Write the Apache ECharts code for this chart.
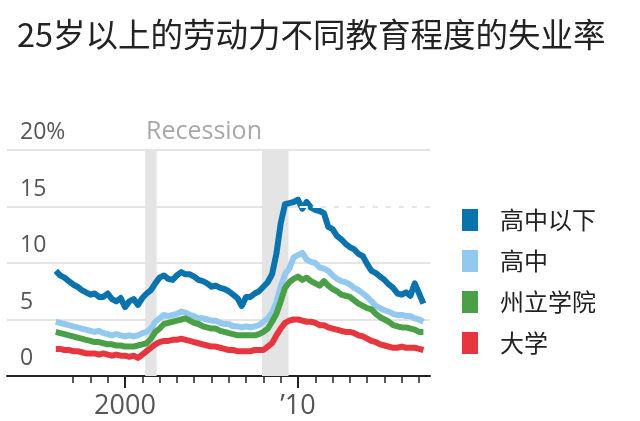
<!DOCTYPE html>
<html><head><meta charset="utf-8">
<script src="https://cdn.jsdelivr.net/npm/echarts@6/dist/echarts.min.js"></script>
<style>html,body{margin:0;padding:0;background:#fff}#c{width:640px;height:421px}</style>
</head><body><div id="c"></div>
<script>
// quarterly observations from 1996 Q1 to 2017 Q2
const startYear = 1996;
const seriesNames = ['高中以下', '高中', '州立学院', '大学'];
const lessHS = [9.3,8.9,8.7,8.4,8.1,7.9,7.6,7.4,7.2,7.3,7.0,7.0,7.3,6.8,6.6,6.9,6.1,6.6,6.8,6.3,6.9,7.3,7.6,8.2,8.7,8.9,8.6,8.5,8.9,9.2,9.0,9.0,8.8,8.5,8.4,8.2,7.9,8.0,7.8,7.7,7.5,7.2,6.9,6.2,7.0,7.0,7.3,7.5,7.9,8.3,9.0,10.8,13.5,15.2,15.3,15.4,15.6,14.8,15.4,14.9,14.7,14.6,14.4,13.2,13.0,12.4,12.1,11.7,11.4,11.2,10.8,10.6,9.9,9.3,9.1,8.8,8.5,8.1,7.8,7.3,7.2,7.4,7.1,8.2,7.3,6.4];
const highSchool = [4.8,4.7,4.6,4.5,4.4,4.3,4.2,4.1,4.0,3.9,4.0,3.8,3.7,3.6,3.7,3.6,3.5,3.6,3.5,3.6,3.8,3.9,4.2,4.8,5.1,5.4,5.3,5.4,5.5,5.7,5.6,5.4,5.3,5.1,5.1,5.0,4.9,4.9,4.7,4.6,4.6,4.4,4.4,4.3,4.4,4.3,4.4,4.5,4.8,5.1,5.6,6.5,7.9,9.0,9.5,10.5,10.7,10.9,10.3,10.1,10.0,9.6,9.5,9.3,8.9,8.6,8.4,8.3,8.1,7.8,7.6,7.3,7.0,6.6,6.2,6.0,5.8,5.7,5.5,5.4,5.4,5.3,5.3,5.1,5.0,4.8];
const someCollege = [3.9,3.8,3.7,3.6,3.5,3.4,3.3,3.2,3.1,3.0,3.0,2.9,2.8,2.8,2.7,2.7,2.6,2.6,2.6,2.7,2.8,2.9,3.3,3.9,4.2,4.6,4.7,4.8,4.9,5.0,5.1,4.9,4.7,4.6,4.4,4.3,4.2,4.2,4.0,3.9,3.8,3.7,3.6,3.6,3.6,3.6,3.6,3.7,3.9,4.2,4.8,5.5,6.6,7.8,8.3,8.6,8.8,8.5,8.7,8.4,8.2,8.0,8.4,8.0,7.7,7.5,7.2,7.1,7.0,6.7,6.4,6.2,6.0,5.9,5.5,5.2,5.0,4.8,4.5,4.4,4.3,4.3,4.2,4.1,3.9,3.9];
const bachelors = [2.4,2.4,2.3,2.3,2.2,2.2,2.1,2.0,2.0,2.0,1.9,2.0,1.9,1.8,1.9,1.8,1.8,1.7,1.8,1.6,1.9,2.2,2.5,2.8,3.0,3.1,3.1,3.2,3.2,3.3,3.2,3.1,3.0,2.9,2.8,2.7,2.6,2.6,2.5,2.4,2.3,2.3,2.2,2.2,2.2,2.2,2.3,2.3,2.3,2.6,2.9,3.6,4.2,4.7,4.9,5.0,5.0,4.9,4.8,4.8,4.7,4.5,4.5,4.3,4.2,4.1,4.0,3.9,3.9,3.8,3.6,3.5,3.3,3.1,3.0,2.8,2.7,2.6,2.5,2.5,2.6,2.5,2.5,2.5,2.4,2.3];
const yTicks = [0, 5, 10, 15, 20];
const minorTickYears = [1997,1998,1999,2000,2001,2002,2003,2004,2005,2006,2007,2008,2009,2010,2011,2012,2013,2014,2015,2016,2017];
const majorTickYears = [2000, 2010];
const majorTickLabels = ['2000', '\u201910'];
const recessions = [[2001.17, 2001.83], [2007.92, 2009.45]];
const colors = ['#0a72ad', '#94c9ef', '#4aa046', '#e8363f'];

const allValues = [lessHS, highSchool, someCollege, bachelors];
const series = allValues.map((vals, k) => ({
  name: seriesNames[k],
  type: 'line',
  data: vals.map((v, i) => [startYear + i * 0.25, v]),
  showSymbol: false,
  symbol: 'none',
  lineStyle: { width: 6, color: colors[k], join: 'round' },
  itemStyle: { color: colors[k] },
  z: 3 + k
}));
series[0].markArea = {
  silent: true,
  itemStyle: { color: '#e4e4e4' },
  data: recessions.map(r => [{ xAxis: r[0] }, { xAxis: r[1] }]),
  z: 1
};
series.push({
  type: 'line', data: [], silent: true, z: 10,
  markLine: {
    silent: true, symbol: 'none', label: { show: false },
    lineStyle: { color: '#ffffff', width: 2, type: [8, 5] },
    data: [[{ coord: [2010.1, 15] }, { coord: [2017.63, 15] }]]
  }
});

const chart = echarts.init(document.getElementById('c'));
chart.setOption({
  animation: false,
  backgroundColor: '#ffffff',
  title: {
    text: '25岁以上的劳动力不同教育程度的失业率',
    left: 12, top: 13,
    textStyle: { fontFamily: 'Noto Sans CJK SC', fontSize: 32.5, fontWeight: 'normal', color: '#222' }
  },
  graphic: [{
    type: 'text', left: 146, top: 119,
    style: { text: 'Recession', fontFamily: 'Open Sans', fontSize: 25, fill: '#a8a8a8' }
  }],
  legend: {
    orient: 'vertical', left: 457, top: 203,
    icon: 'rect', itemWidth: 16, itemHeight: 22, itemGap: 17,
    data: seriesNames,
    textStyle: { fontFamily: 'Noto Sans CJK SC', fontSize: 24, lineHeight: 22, color: '#222', padding: [0, 0, 0, 17] }
  },
  grid: { left: 7, right: 210, top: 150, bottom: 45 },
  xAxis: [{
    type: 'value', min: 1993.18, max: 2017.63,
    axisLine: { show: true, lineStyle: { color: '#222', width: 2 } },
    axisTick: { show: true, customValues: minorTickYears, length: 7, lineStyle: { color: '#222', width: 1.5 } },
    axisLabel: { show: false },
    splitLine: { show: false }
  }, {
    type: 'value', min: 1993.18, max: 2017.63, position: 'bottom',
    axisLine: { show: false },
    axisTick: { show: true, customValues: majorTickYears, length: 12, lineStyle: { color: '#222', width: 2 } },
    axisLabel: {
      show: true, customValues: majorTickYears, margin: 17,
      formatter: v => majorTickLabels[majorTickYears.indexOf(Math.round(v))] || '',
      fontFamily: 'Open Sans', fontSize: 27, color: '#555'
    },
    splitLine: { show: false }
  }],
  yAxis: {
    type: 'value', min: 0, max: 20, interval: 5,
    axisLine: { show: false }, axisTick: { show: false },
    splitLine: { show: true, lineStyle: { color: '#e4e4e4', width: 2 } },
    axisLabel: {
      inside: true, margin: 13, align: 'left', verticalAlign: 'bottom', padding: [0, 0, 6, 0],
      formatter: v => (v === 20 ? v + '%' : String(v)),
      fontFamily: 'Open Sans', fontSize: 23, color: '#555'
    }
  },
  series: series
});
</script></body></html>
